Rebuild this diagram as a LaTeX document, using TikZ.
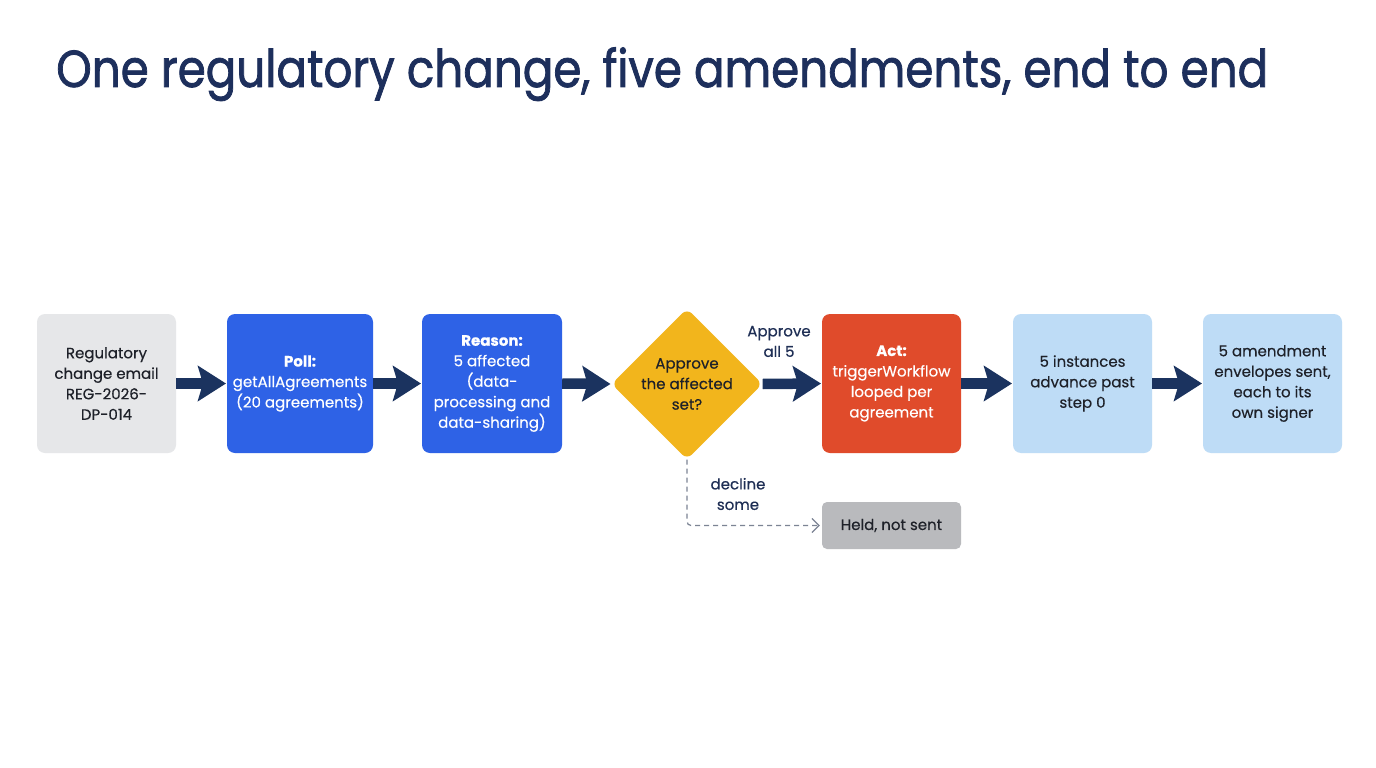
\documentclass[tikz,border=0pt]{standalone}
\usepackage{fontspec}
\setmainfont{Poppins}
\newfontfamily\titlefont[FakeBold=1.6]{Poppins}
\newfontfamily\mediumfont[FakeBold=0.4]{Poppins}
\usetikzlibrary{shapes.geometric,arrows.meta}
\definecolor{navy}{HTML}{1B335F}
\definecolor{titlec}{HTML}{1D2F5C}
\definecolor{boxgray}{HTML}{E6E7E9}
\definecolor{boxblue}{HTML}{2E62E6}
\definecolor{gold}{HTML}{F2B51C}
\definecolor{boxred}{HTML}{E04B2B}
\definecolor{lightblue}{HTML}{BEDCF6}
\definecolor{heldgray}{HTML}{B9BABD}
\definecolor{darktext}{HTML}{1E2129}
\definecolor{dashgray}{HTML}{7C8494}
\definecolor{labeltext}{HTML}{1F2F55}
\begin{document}
\begin{tikzpicture}[x=1pt,y=-1pt,
  stepbox/.style={rectangle, rounded corners=8pt, minimum width=139pt, minimum height=139pt,
    align=center, inner sep=2pt, font=\mediumfont\fontsize{15}{20.5}\selectfont},
  flow/.style={draw=navy, line width=10.5pt, -{Stealth[length=28pt,width=35pt,inset=5pt]}, shorten >=0.8pt},
  lbl/.style={align=center, font=\mediumfont\fontsize{15}{20.5}\selectfont, text=labeltext}
]
\useasboundingbox (0,0) rectangle (1376,768);
\fill[white] (0,0) rectangle (1376,768);
\node[anchor=base west, text=titlec, inner sep=0, font=\titlefont\fontsize{52}{58}\selectfont] (title) at (56,87) {\resizebox{1212pt}{\height}{One regulatory change, five amendments, end to end}};

\node[stepbox, fill=boxgray, text=darktext] (b1) at (106.5,383.5) {Regulatory\\change email\\REG-2026-\\DP-014};
\node[stepbox, fill=boxblue, text=white, minimum width=146pt] (b2) at (300,383.5) {\textbf{Poll:}\\getAllAgreements\\(20 agreements)};
\node[stepbox, fill=boxblue, text=white, minimum width=140pt] (b3) at (492,383.5) {\textbf{Reason:}\\5 affected\\(data-\\processing and\\data-sharing)};
\node[diamond, aspect=1, minimum size=151pt, inner sep=0pt, fill=gold, rounded corners=7pt] (d) at (687,384) {};
\node[align=center, text=darktext, font=\mediumfont\fontsize{15}{20.5}\selectfont] (dt) at (d.center) {Approve\\the affected\\set?};
\node[stepbox, fill=boxred, text=white] (b5) at (891.5,383.5) {\textbf{Act:}\\triggerWorkflow\\looped per\\agreement};
\node[stepbox, fill=lightblue, text=darktext] (b6) at (1082.5,383.5) {5 instances\\advance past\\step 0};
\node[stepbox, fill=lightblue, text=darktext] (b7) at (1272.5,383.5) {5 amendment\\envelopes sent,\\each to its\\own signer};
\node[stepbox, fill=heldgray, text=darktext, minimum height=47pt, rounded corners=5pt] (held) at (891.5,525.5) {Held, not sent};

\draw[flow] (b1.east) -- (b2.west);
\draw[flow] (b2.east) -- (b3.west);
\draw[flow] (b3.east) -- (d.west);
\draw[flow] (d.east) -- (b5.west);
\draw[flow] (b5.east) -- (b6.west);
\draw[flow] (b6.east) -- (b7.west);

\node[lbl] (approve) at (779,341.5) {Approve\\all 5};
\node[lbl] (decline) at (738,494) {decline\\some};

\draw[dashgray, line width=1.2pt, dash pattern=on 5pt off 4pt, rounded corners=4pt,
  -{Straight Barb[length=7pt,width=14pt]}, shorten >=2pt]
  (d.south) -- (d.south |- held.west) -- (held.west);
\end{tikzpicture}
\end{document}
